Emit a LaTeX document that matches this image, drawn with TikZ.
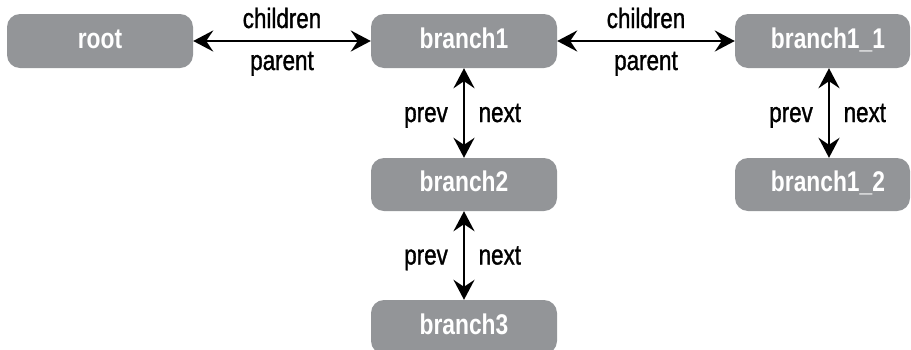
\documentclass[tikz,border=0pt]{standalone}
\usepackage{fontspec}
\setmainfont{Liberation Sans}[FakeStretch=0.8]
\newfontfamily\lblfont{Liberation Sans}[FakeStretch=0.8, FakeBold=1.2]
\usetikzlibrary{arrows.meta}
\definecolor{boxgray}{HTML}{939598}
\tikzset{
  box/.style={fill=boxgray, rounded corners=13pt, minimum width=186pt, minimum height=54pt,
    inner sep=0pt, text=white, text height=18pt, text depth=3.4pt,
    font=\fontsize{28.5}{30}\selectfont\bfseries},
  narrowbox/.style={box, minimum width=175pt},
  link/.style={line width=2.3pt, {Stealth[length=20pt,width=21pt,inset=7pt]}-{Stealth[length=20pt,width=21pt,inset=7pt]}},
  lbl/.style={font=\lblfont\fontsize{28}{30}\selectfont, text=black, inner sep=0pt},
  lblabove/.style={lbl, midway, anchor=base, yshift=13pt},
  lblbelow/.style={lbl, midway, anchor=base, yshift=-29pt},
  lblleft/.style={lbl, midway, anchor=base east, xshift=-15pt, yshift=-9pt},
  lblright/.style={lbl, midway, anchor=base west, xshift=13.5pt, yshift=-9pt},
}
\begin{document}
\begin{tikzpicture}[x=1pt,y=-1pt]
\useasboundingbox (0,0) rectangle (911,349);
\node[box] (root) at (100,41) {root};
\node[box] (b1) at (464,41) {branch1};
\node[narrowbox] (b11) at (822.5,41) {\hspace*{11pt}branch1\_1};
\node[box, minimum height=53pt] (b2) at (464,184.5) {branch2};
\node[box] (b3) at (464,327) {branch3};
\node[narrowbox, minimum height=53pt] (b12) at (822.5,184.5) {\hspace*{11pt}branch1\_2};

\draw[link] (root) -- (b1)
  node[lblabove] (c1) {children}
  node[lblbelow] (p1) {parent};
\draw[link] (b1) -- (b11)
  node[lblabove] (c2) {children}
  node[lblbelow] (p2) {parent};
\draw[link] (b1) -- (b2)
  node[lblleft] (pv1) {prev}
  node[lblright] (nx1) {next};
\draw[link] (b2) -- (b3)
  node[lblleft] (pv2) {prev}
  node[lblright] (nx2) {next};
\draw[link] ([xshift=6.5pt]b11.south) -- ([xshift=6.5pt]b12.north)
  node[lblleft] (pv3) {prev}
  node[lblright] (nx3) {next};
\end{tikzpicture}
\end{document}
